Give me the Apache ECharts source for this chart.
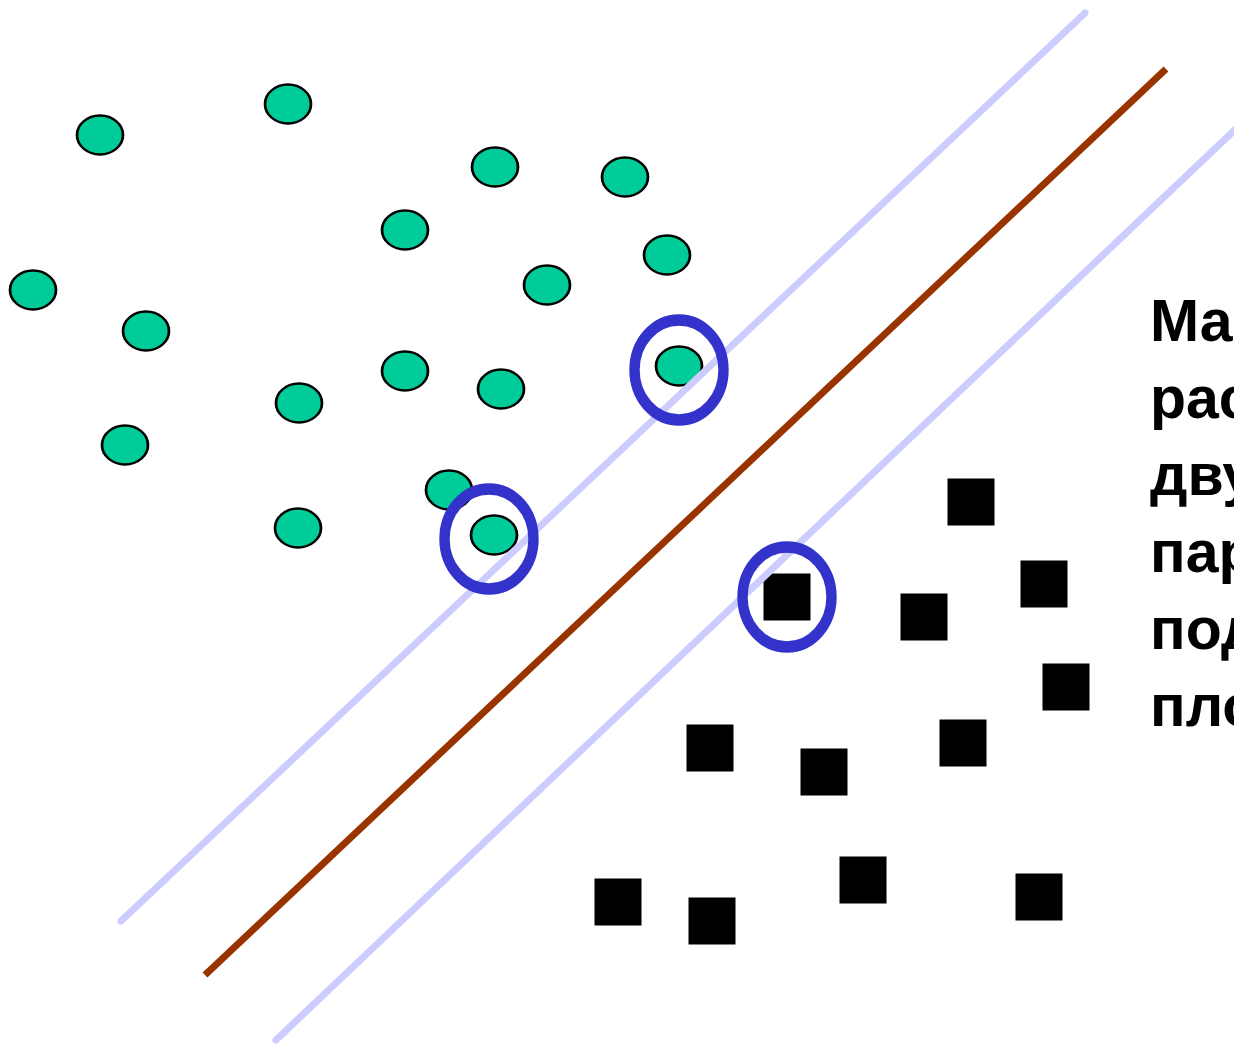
<!DOCTYPE html>
<html><head><meta charset="utf-8">
<script src="https://cdn.jsdelivr.net/npm/echarts@6/dist/echarts.min.js"></script>
<style>html,body{margin:0;padding:0;background:#fff}#c{width:1234px;height:1044px}</style>
</head><body><div id="c"></div>
<script>
// Class A (green ellipses): [x, y]
const classA = [[100,135],[288,104],[495,167],[625,177],[405,230],[667,255],[547,285],[33,290],[146,331],[405,371],[501,389],[679,366],[299,403],[125,445],[449,490],[494,535],[298,528]];
// Class B (black squares): [x, y]
const classB = [[971,502],[1044,584],[924,617],[787,597],[1066,687],[710,748],[824,772],[963,743],[863,880],[618,902],[712,921],[1039,897]];
// Support vectors (ringed)
const supportVectors = [[679,370],[489,539],[787,597]];
// Lines: margin upper, separator, margin lower
const marginUpper = [[121,921],[1085,13]];
const separator = [[205,975],[1166,69]];
const marginLower = [[276,1040],[1262,104]];
const textLines = ['Максимальное','расстояние между','двумя','параллельными','подходящими','плоскостями'];

const chart = echarts.init(document.getElementById('c'));
const textBase = 351, textStep = 77;
chart.setOption({
  animation: false,
  grid: {left:0,right:0,top:0,bottom:0},
  xAxis: {type:'value',min:0,max:1234,show:false},
  yAxis: {type:'value',min:0,max:1044,inverse:true,show:false},
  series: [
    {type:'scatter',data:classA,symbol:'circle',symbolSize:[46,39],z:2,
     itemStyle:{color:'#00CC99',borderColor:'#000',borderWidth:2.5,opacity:1}},
    {type:'scatter',data:classB,symbol:'rect',symbolSize:47,z:2,
     itemStyle:{color:'#000',opacity:1}},
    {type:'line',data:marginUpper,symbol:'none',z:3,lineStyle:{color:'#CCCCFF',width:7,cap:'round'}},
    {type:'line',data:separator,symbol:'none',z:3,lineStyle:{color:'#993300',width:7,cap:'butt'}},
    {type:'line',data:marginLower,symbol:'none',z:3,lineStyle:{color:'#CCCCFF',width:7,cap:'round'}},
    {type:'scatter',data:supportVectors,symbol:'circle',symbolSize:[89,100],z:4,
     itemStyle:{color:'rgba(0,0,0,0)',borderColor:'#3333CC',borderWidth:11,opacity:1}}
  ],
  graphic: textLines.map((t,i)=>({
    type:'text',left:1150,top:textBase + i*textStep - 56,
    style:{text:t,font:'bold 59px "Liberation Sans", Arial, sans-serif',fill:'#000'}
  }))
});
</script></body></html>
